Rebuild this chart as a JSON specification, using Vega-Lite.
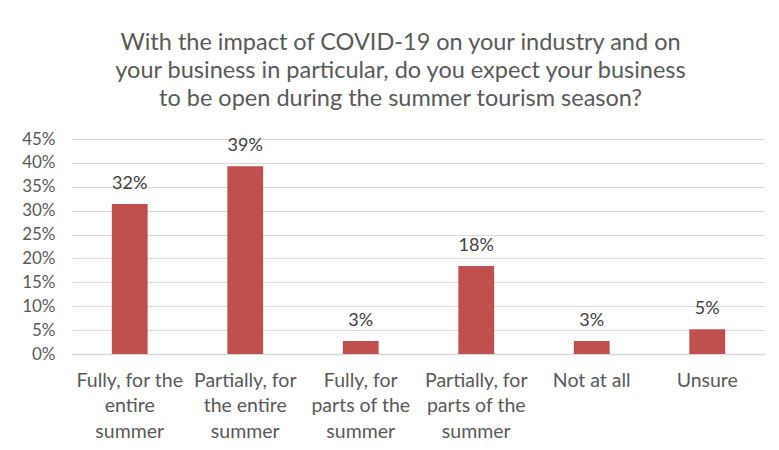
{
  "$schema": "https://vega.github.io/schema/vega-lite/v6.json",
  "width": 693,
  "height": 215,
  "autosize": {"type": "none"},
  "padding": {"left": 72, "top": 139, "right": 14, "bottom": 96},
  "background": "white",
  "title": {
    "text": ["With the impact of COVID-19 on your industry and on", "your business in particular, do you expect your business", "to be open during the summer tourism season?"],
    "anchor": "middle",
    "frame": "group",
    "dx": -18,
    "offset": 20,
    "font": "Lato",
    "fontSize": 23.5,
    "fontWeight": "normal",
    "color": "#595959",
    "lineHeight": 28
  },
  "data": {
    "values": [
      {"answer": "Fully, for the|entire|summer", "share": 0.314, "label": "32%"},
      {"answer": "Partially, for|the entire|summer", "share": 0.393, "label": "39%"},
      {"answer": "Fully, for|parts of the|summer", "share": 0.027, "label": "3%"},
      {"answer": "Partially, for|parts of the|summer", "share": 0.184, "label": "18%"},
      {"answer": "Not at all", "share": 0.027, "label": "3%"},
      {"answer": "Unsure", "share": 0.052, "label": "5%"}
    ]
  },
  "encoding": {
    "x": {
      "field": "answer",
      "type": "nominal",
      "sort": null,
      "title": null,
      "scale": {"paddingInner": 0.69, "paddingOuter": 0.345},
      "axis": {
        "labelExpr": "split(datum.label, '|')",
        "labelAngle": 0,
        "labelFont": "Lato",
        "labelFontSize": 19.5,
        "labelColor": "#595959",
        "labelLineHeight": 25.5,
        "labelPadding": 17,
        "labelBaseline": "top",
        "labelLimit": 200,
        "ticks": false,
        "domainColor": "#d9d9d9",
        "domainWidth": 1.5
      }
    },
    "y": {
      "field": "share",
      "type": "quantitative",
      "title": null,
      "scale": {"domain": [0, 0.45], "nice": false},
      "axis": {
        "format": ".0%",
        "values": [0, 0.05, 0.1, 0.15, 0.2, 0.25, 0.3, 0.35, 0.4, 0.45],
        "labelFont": "Lato",
        "labelFontSize": 17,
        "labelColor": "#595959",
        "labelPadding": 17,
        "ticks": false,
        "domain": false,
        "gridColor": "#d9d9d9",
        "gridWidth": 1.2
      }
    }
  },
  "layer": [
    {"mark": {"type": "bar", "color": "#C0504D"}},
    {
      "mark": {"type": "text", "baseline": "bottom", "dy": -11, "font": "Lato", "fontSize": 18, "color": "#404040"},
      "encoding": {"text": {"field": "label"}}
    }
  ],
  "config": {"view": {"stroke": null}}
}
